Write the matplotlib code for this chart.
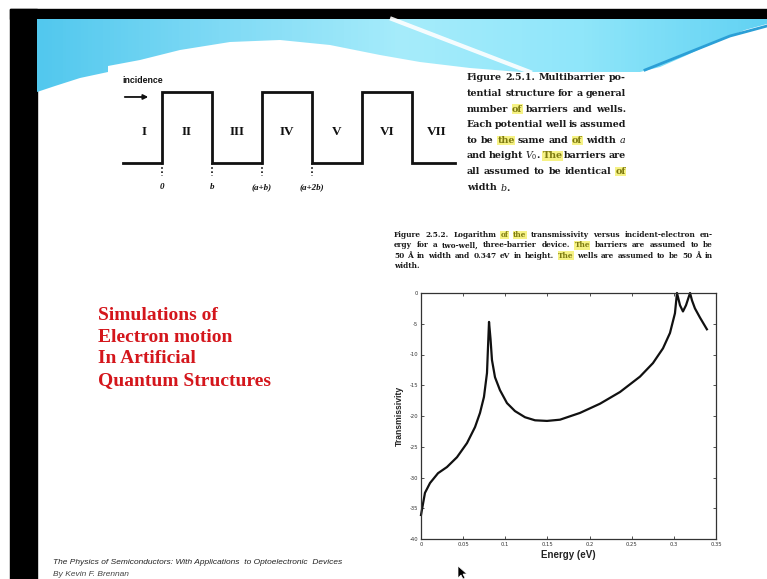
import matplotlib
matplotlib.use("Agg")
import numpy as np
import matplotlib.pyplot as plt
from matplotlib.patches import Polygon, Rectangle
from matplotlib.colors import LinearSegmentedColormap

plt.rcParams['axes.unicode_minus'] = False
plt.rcParams['mathtext.fontset'] = 'dejavuserif'

# --- data ---
# Figure 2.5.2: log of transmissivity vs incident-electron energy
energy = [0.0, 0.0047, 0.0107, 0.0202, 0.0308, 0.0427, 0.0546, 0.0641, 0.0700, 0.0747,
          0.0783, 0.0795, 0.0807, 0.0825, 0.0842, 0.0878, 0.0937, 0.1020, 0.1115, 0.1234,
          0.1353, 0.1495, 0.1649, 0.1886, 0.2124, 0.2361, 0.2598, 0.2752, 0.2871, 0.2954,
          0.3013, 0.3037, 0.3073, 0.3108, 0.3144, 0.3192, 0.3215, 0.3250, 0.3310, 0.3392]
log_T = [-36.1, -32.5, -30.9, -29.3, -28.3, -26.7, -24.4, -21.8, -19.5, -16.9,
         -13.0, -8.8, -4.7, -7.5, -10.9, -13.7, -15.8, -17.9, -19.2, -20.2,
         -20.7, -20.8, -20.6, -19.5, -18.0, -16.1, -13.6, -11.4, -9.0, -6.5,
         -3.3, 0.0, -2.0, -3.0, -2.0, 0.0, -1.2, -2.5, -4.0, -5.9]
e_ticks = [0, 0.05, 0.1, 0.15, 0.2, 0.25, 0.3, 0.35]
e_labels = ['0', '0.05', '0.1', '0.15', '0.2', '0.25', '0.3', '0.35']
t_ticks = [0, -5, -10, -15, -20, -25, -30, -35, -40]
t_labels = ['0', '-5', '-10', '-15', '-20', '-25', '-30', '-35', '-40']

# Figure 2.5.1: barriers of width b separated by wells of width a (b = a = 1)
barrier_left = [0, 2, 4]
barrier_width = 1
region_names = ['I', 'II', 'III', 'IV', 'V', 'VI', 'VII']
region_x = [-0.35, 0.5, 1.5, 2.5, 3.5, 4.5, 5.5]
edge_x = [0, 1, 2, 3]
edge_labels = ['0', 'b', '(a+b)', '(a+2b)']

cap1 = ["Figure 2.5.1. Multibarrier po-",
        "tential structure for a general",
        "number of barriers and wells.",
        "Each potential well is assumed",
        "to be the same and of width $a$",
        "and height $V_0$. The barriers are",
        "all assumed to be identical of",
        "width $b$."]
cap1_marks = [(2, 1), (4, 2), (4, 5), (5, 3), (6, 5)]
cap2 = ["Figure 2.5.2. Logarithm of the transmissivity versus incident-electron en-",
        "ergy for a two-well, three-barrier device. The barriers are assumed to be",
        "50 Å in width and 0.347 eV in height. The wells are assumed to be 50 Å in",
        "width."]
cap2_marks = [(0, 3), (0, 4), (1, 6), (2, 9)]
title_lines = "Simulations of\nElectron motion\nIn Artificial\nQuantum Structures"

fig = plt.figure(figsize=(7.67, 5.79), dpi=100)
fig.patch.set_facecolor('white')

# background layer in pixel coordinates
bg = fig.add_axes([0, 0, 1, 1], zorder=0)
bg.set_xlim(0, 767)
bg.set_ylim(579, 0)
bg.axis('off')

bg.add_patch(Rectangle((10, 9), 27, 570, color='black'))
bg.add_patch(Rectangle((10, 9), 757, 10, color='black'))

band = Polygon([(37, 19), (767, 19), (767, 24), (745, 30), (715, 42), (685, 56), (660, 67),
                (640, 72), (520, 72), (470, 68), (420, 62), (380, 55), (330, 45), (280, 40),
                (230, 42), (180, 50), (140, 60), (108, 66), (108, 72), (80, 78), (55, 86),
                (37, 92)], closed=True, facecolor='none', edgecolor='none')
bg.add_patch(band)
grad = np.linspace(0, 1, 200)[None, :]
cm = LinearSegmentedColormap.from_list('band', ['#52c8ee', '#7fdaf5', '#a6ecfb', '#8fe6fa', '#62d2f3'])
im = bg.imshow(grad, cmap=cm, extent=(37, 767, 95, 18), aspect='auto', zorder=1)
im.set_clip_path(band)
bg.plot([392, 530], [19, 72], color='white', lw=3, alpha=0.9, zorder=2)
bg.plot([645, 690, 730, 767], [70, 52, 36, 26], color='#2b9fd6', lw=2, zorder=2)

# justified caption text
r = fig.canvas.get_renderer()


def justify(lines, marks, x0, x1, y0, dy, size):
    for i, line in enumerate(lines):
        words = line.split()
        arts = [bg.text(0, y0 + i * dy, w, fontsize=size, family='DejaVu Serif',
                        weight='bold', va='center', ha='left', color='#1a1a1a', zorder=4)
                for w in words]
        widths = [a.get_window_extent(r).width for a in arts]
        if i == len(lines) - 1:
            gap = size * 1.389 * 0.3
        else:
            gap = max((x1 - x0 - sum(widths)) / (len(words) - 1), 1.0)
        x = x0
        for j, (a, wd) in enumerate(zip(arts, widths)):
            a.set_x(x)
            if (i, j) in marks:
                a.set_color('#7d7a10')
                a.set_bbox(dict(facecolor='#f6f285', edgecolor='none', pad=0.3))
            x += wd + gap


justify(cap1, cap1_marks, 467, 626, 78, 15.6, 6.8)
justify(cap2, cap2_marks, 394, 713, 235, 10.4, 5.3)

bg.text(98, 307, title_lines, fontsize=14, family='Liberation Serif', weight='bold',
        color='#d4161c', va='top', ha='left', linespacing=1.36)
bg.text(53, 563, "The Physics of Semiconductors: With Applications  to Optoelectronic  Devices",
        fontsize=6, family='Liberation Sans', style='italic', color='#222222', va='center')
bg.text(53, 574, "By Kevin F. Brennan", fontsize=6, family='Liberation Sans',
        style='italic', color='#444444', va='center')
bg.add_patch(Polygon([(458, 566), (458, 578), (461, 575), (463, 579), (465, 578),
                      (463, 574), (467, 574)], closed=True, facecolor='black',
                     edgecolor='white', lw=0.5, zorder=5))

# potential structure diagram (x unit = 50 px, y unit = V0)
ad = fig.add_axes([112 / 767, 1 - 200 / 579, 360 / 767, 130 / 579], zorder=1)
ad.set_xlim(-1.0, 6.2)
ad.set_ylim(-0.521, 1.31)
ad.axis('off')
px = [-0.78]
py = [0]
for b0 in barrier_left:
    px += [b0, b0, b0 + barrier_width, b0 + barrier_width]
    py += [0, 1, 1, 0]
px.append(5.86)
py.append(0)
ad.plot(px, py, color='#111111', lw=2, solid_joinstyle='miter')
for x, name in zip(region_x, region_names):
    ad.text(x, 0.44, name, fontsize=9.5, family='Liberation Serif', weight='bold',
            ha='center', va='center', color='#111111')
for x, lab in zip(edge_x, edge_labels):
    ad.plot([x, x], [0, -0.18], color='#111111', lw=1.2, ls=(0, (1, 1.5)))
    ad.text(x, -0.34, lab, fontsize=6.5, family='Liberation Serif', weight='bold',
            style='italic', ha='center', va='center', color='#111111')
ad.text(-0.8, 1.16, 'incidence', fontsize=6.3, family='Liberation Sans', weight='bold',
        ha='left', va='center', color='#111111')
ad.annotate('', xy=(-0.22, 0.93), xytext=(-0.8, 0.93),
            arrowprops=dict(arrowstyle='-|>', color='#111111', lw=1.3, mutation_scale=7))

# transmissivity chart
ax = fig.add_axes([421 / 767, 1 - 539 / 579, 295 / 767, 246 / 579], zorder=1)
ax.set_facecolor('none')
ax.plot(energy, log_T, color='#111111', lw=1.6, clip_on=False)
ax.set_xlim(0, 0.35)
ax.set_ylim(-40, 0)
ax.set_xticks(e_ticks)
ax.set_xticklabels(e_labels)
ax.set_yticks(t_ticks)
ax.set_yticklabels(t_labels)
ax.tick_params(direction='in', length=2.5, width=0.6, labelsize=3.8, top=True, right=True,
               pad=2, colors='#333333')
for s in ax.spines.values():
    s.set_linewidth(0.9)
    s.set_color('#333333')
ax.set_xlabel('Energy (eV)', fontsize=7, family='Liberation Sans', weight='bold',
              labelpad=2, color='#222222')
ax.set_ylabel('Transmissivity', fontsize=6.2, family='Liberation Sans', weight='bold',
              labelpad=4, color='#222222')

fig.savefig('out.png', dpi=100)
